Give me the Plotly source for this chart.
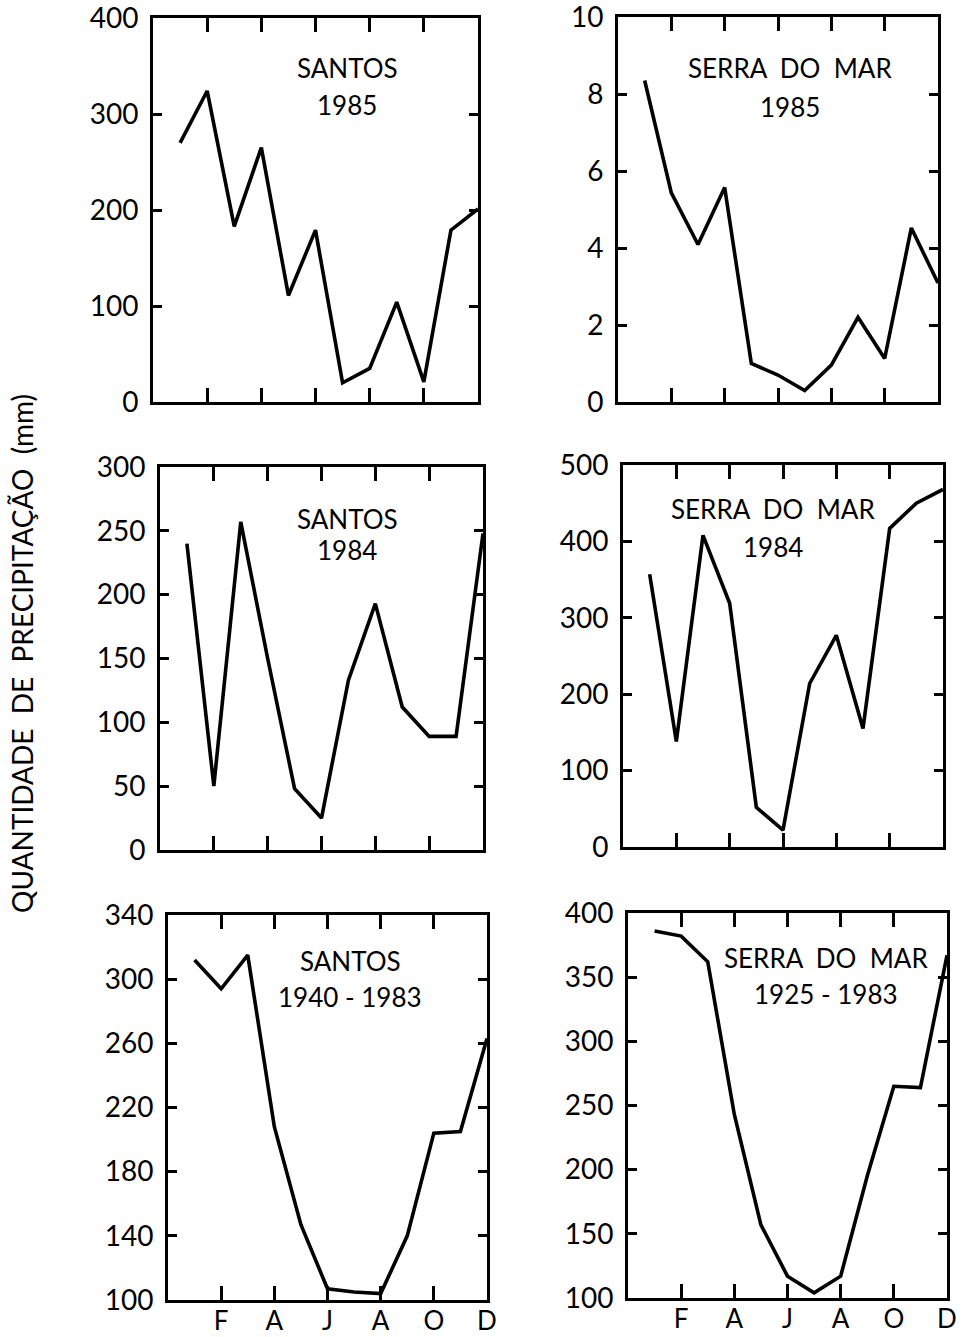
import plotly.graph_objects as go

W, H = 970, 1337

months = list(range(1, 13))
month_ticks = [2, 4, 6, 8, 10, 12]
month_labels = ["F", "A", "J", "A", "O", "D"]

santos_1985 = [270, 324, 183, 265, 111, 179, 20, 35, 104, 21, 179, 201]
serra_1985 = [8.35, 5.43, 4.09, 5.57, 1.0, 0.7, 0.3, 0.96, 2.2, 1.13, 4.52, 3.09]
santos_1984 = [240, 50, 257, 150, 48, 25, 133, 193, 112, 89, 89, 248]
serra_1984 = [357, 138, 408, 319, 52, 22, 214, 277, 155, 417, 450, 468]
santos_1940_1983 = [312, 294, 315, 208, 147, 107, 105, 104, 140, 204, 205, 263]
serra_1925_1983 = [386, 382, 362, 243, 157, 117, 104, 117, 195, 265, 264, 367]

panel_titles = [
    ("SANTOS", "1985"),
    ("SERRA  DO  MAR", "1985"),
    ("SANTOS", "1984"),
    ("SERRA  DO  MAR", "1984"),
    ("SANTOS", "1940 - 1983"),
    ("SERRA  DO  MAR", "1925 - 1983"),
]
series = [santos_1985, serra_1985, santos_1984, serra_1984, santos_1940_1983, serra_1925_1983]
y_ranges = [(0, 400), (0, 10), (0, 300), (0, 500), (100, 340), (100, 400)]
y_dticks = [100, 2, 50, 100, 40, 50]
y_label = "QUANTIDADE  DE  PRECIPITAÇÃO  (mm)"

# panel frames in pixels: (left, right, top, bottom)
frames = [
    (153, 478, 18, 402),
    (618, 938, 17, 402),
    (160, 483, 467, 850),
    (623, 943, 465, 847),
    (168, 487, 915, 1300),
    (628, 947, 913, 1298),
]
# title centres in pixels: (x, y line1, y line2)
title_pos = [
    (347, 68, 105),
    (790, 68, 107),
    (347, 519, 550),
    (773, 509, 547),
    (350, 961, 997),
    (826, 958, 994),
]

FONT = "Lato, 'DejaVu Sans', sans-serif"

fig = go.Figure()
layout = dict(
    width=W, height=H, autosize=False,
    margin=dict(l=0, r=0, t=0, b=0, pad=0, autoexpand=False),
    paper_bgcolor="white", plot_bgcolor="white",
    showlegend=False,
    font=dict(family=FONT, color="black", size=26),
)
annotations = []

for i, (vals, fr, yr, dt) in enumerate(zip(series, frames, y_ranges, y_dticks)):
    n = i + 1
    xa = "x" if n == 1 else f"x{n}"
    ya = "y" if n == 1 else f"y{n}"
    fig.add_trace(go.Scatter(
        x=months, y=vals, mode="lines",
        line=dict(color="black", width=3.6),
        xaxis=xa, yaxis=ya, hoverinfo="skip",
    ))
    l, r, t, b = fr
    bottom_row = i >= 4
    layout["xaxis" if n == 1 else f"xaxis{n}"] = dict(
        domain=[l / W, r / W], anchor=ya, range=[0, 12],
        automargin=False, ticklabeloverflow="allow",
        showgrid=False, zeroline=False,
        showline=True, linecolor="black", linewidth=3, mirror="ticks",
        ticks="inside", ticklen=14, tickwidth=3, tickcolor="black",
        tickvals=month_ticks, ticktext=month_labels,
        showticklabels=bottom_row,
        tickfont=dict(size=26, family=FONT, color="black"),
        ticklabelstandoff=-4,
        fixedrange=True,
    )
    layout["yaxis" if n == 1 else f"yaxis{n}"] = dict(
        domain=[1 - b / H, 1 - t / H], anchor=xa, range=list(yr),
        automargin=False, ticklabeloverflow="allow",
        showgrid=False, zeroline=False,
        showline=True, linecolor="black", linewidth=3, mirror="ticks",
        ticks="inside", ticklen=9, tickwidth=3, tickcolor="black",
        tick0=yr[0], dtick=dt,
        tickfont=dict(size=28, family=FONT, color="black"),
        ticklabelstandoff=6,
        fixedrange=True,
    )
    tx, ty1, ty2 = title_pos[i]
    for txt, ty in zip(panel_titles[i], (ty1, ty2)):
        annotations.append(dict(
            text=txt, x=tx / W, y=1 - ty / H, xref="paper", yref="paper",
            xanchor="center", yanchor="middle", showarrow=False,
            font=dict(size=26, family=FONT, color="black"),
        ))

annotations.append(dict(
    text=y_label, x=22 / W, y=1 - 654 / H, xref="paper", yref="paper",
    xanchor="center", yanchor="middle", showarrow=False, textangle=-90,
    font=dict(size=28, family=FONT, color="black"),
))
layout["annotations"] = annotations
fig.update_layout(**layout)

fig.write_html("out.html")
